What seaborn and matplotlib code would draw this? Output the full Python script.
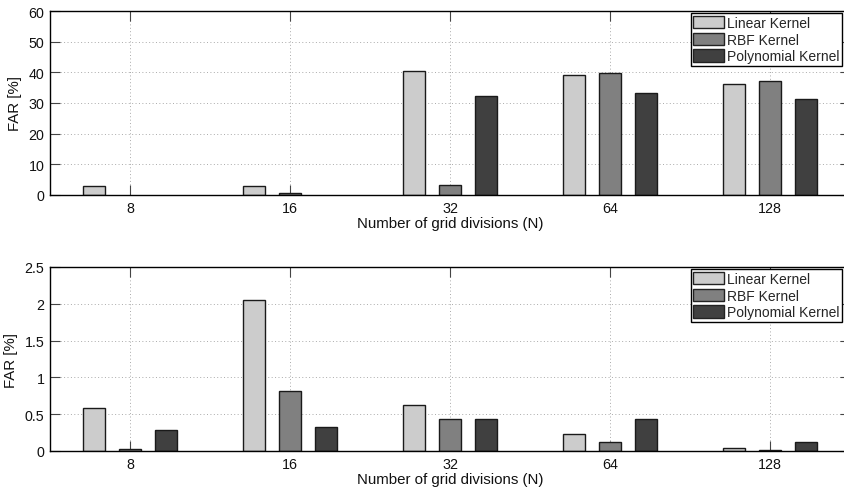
import matplotlib
matplotlib.use("Agg")
import matplotlib.pyplot as plt
import seaborn as sns
import pandas as pd
from matplotlib.patches import Patch

divisions = ["8", "16", "32", "64", "128"]
kernels = ["Linear Kernel", "RBF Kernel", "Polynomial Kernel"]
colors = ["#cccccc", "#808080", "#404040"]

top_linear = [2.8, 2.8, 40.5, 39.2, 36.1]
top_rbf = [0.0, 0.7, 3.2, 39.7, 37.3]
top_poly = [0.0, 0.0, 32.4, 33.2, 31.2]

bot_linear = [0.59, 2.05, 0.62, 0.23, 0.045]
bot_rbf = [0.03, 0.82, 0.44, 0.12, 0.01]
bot_poly = [0.29, 0.33, 0.44, 0.43, 0.12]


def make_df(lin, rbf, poly):
    rows = []
    for k, vals in zip(kernels, [lin, rbf, poly]):
        for d, v in zip(divisions, vals):
            rows.append({"N": d, "FAR": v, "Kernel": k})
    return pd.DataFrame(rows)


sns.set_theme(style="white")
plt.rcParams["font.family"] = ["Liberation Sans", "DejaVu Sans"]

fig = plt.figure(figsize=(8.45, 4.89), dpi=100)
W, H = 845, 489
ax1 = fig.add_axes([50 / W, (H - 196) / H, 800 / W, 184 / H])
ax2 = fig.add_axes([50 / W, (H - 452) / H, 800 / W, 184 / H])

for ax, df, ylim, yticks, yticklabels in [
    (ax1, make_df(top_linear, top_rbf, top_poly), (0, 60), [0, 10, 20, 30, 40, 50, 60],
     ["0", "10", "20", "30", "40", "50", "60"]),
    (ax2, make_df(bot_linear, bot_rbf, bot_poly), (0, 2.5), [0, 0.5, 1, 1.5, 2, 2.5],
     ["0", "0.5", "1", "1.5", "2", "2.5"]),
]:
    sns.barplot(data=df, x="N", y="FAR", hue="Kernel", order=divisions,
                hue_order=kernels, palette=colors, width=0.666, gap=0.38,
                edgecolor="#1a1a1a", linewidth=1.0, ax=ax, legend=False,
                errorbar=None, saturation=1)
    for p in ax.patches:
        if p.get_height() == 0:
            p.set_linewidth(0)
    ax.set_xlim(-0.5, 4.5)
    ax.set_ylim(*ylim)
    ax.set_yticks(yticks)
    ax.set_yticklabels(yticklabels)
    ax.grid(True, linestyle=(0, (1, 2.5)), color="#aaaaaa", linewidth=0.7)
    ax.set_axisbelow(True)
    for s in ax.spines.values():
        s.set_visible(True)
        s.set_color("black")
        s.set_linewidth(1.0)
    ax.tick_params(direction="in", length=7, width=0.8, top=True, right=True,
                   bottom=True, left=True, labelsize=10.3, color="#444444",
                   labelcolor="#111111", pad=4)
    ax.set_xlabel("Number of grid divisions (N)", fontsize=10.8, labelpad=1,
                  color="#111111")
    ax.set_ylabel("FAR [%]", fontsize=10.8, labelpad=5, color="#111111")
    handles = [Patch(facecolor=c, edgecolor="#222222", linewidth=1.0) for c in colors]
    leg = ax.legend(handles, kernels, loc="upper right",
                    fontsize=10, frameon=True, fancybox=False,
                    edgecolor="black", framealpha=1, borderpad=0.2,
                    labelspacing=0.2, handlelength=2.2, handleheight=1.0,
                    handletextpad=0.2, borderaxespad=0.15)
    leg.get_frame().set_linewidth(1.0)
    pos = ax.get_position()
    leg.set_bbox_to_anchor((pos.x0, pos.y0, 844 / W - pos.x0, pos.height),
                           transform=fig.transFigure)

fig.savefig("out.png", dpi=100)
